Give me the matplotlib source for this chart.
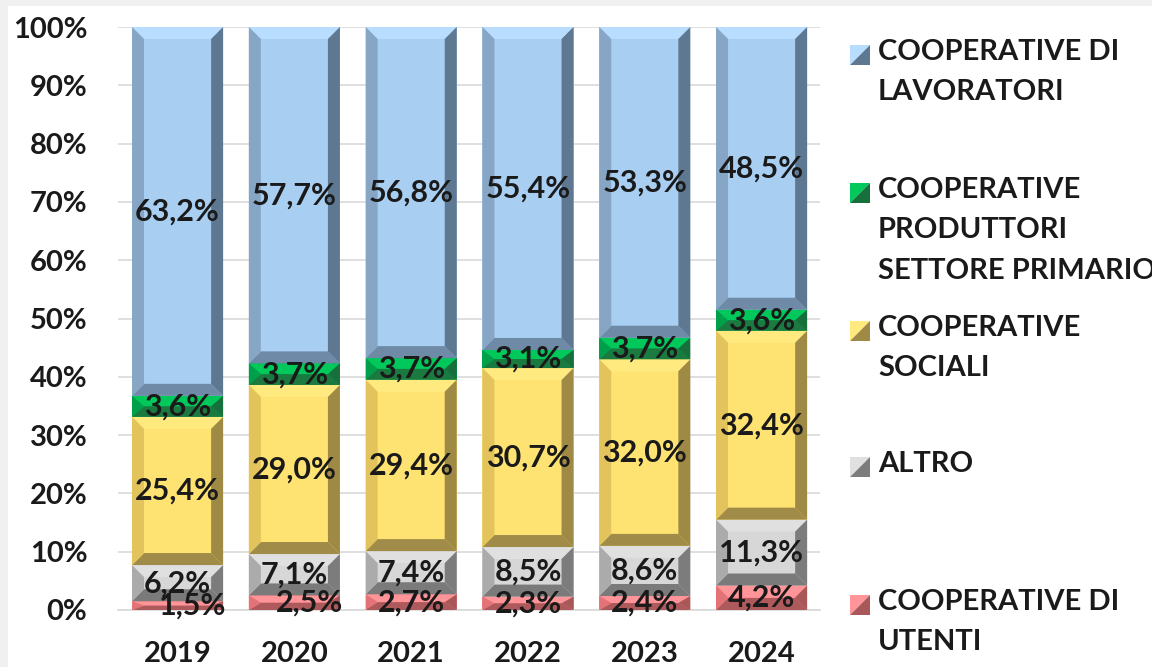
import numpy as np
import matplotlib.pyplot as plt
from matplotlib.patches import Polygon, Rectangle

plt.rcParams['font.family'] = ['Lato', 'DejaVu Sans']

# data (shares in %, bottom to top)
years = ['2019', '2020', '2021', '2022', '2023', '2024']
utenti = [1.5, 2.5, 2.7, 2.3, 2.4, 4.2]
altro = [6.2, 7.1, 7.4, 8.5, 8.6, 11.3]
sociali = [25.4, 29.0, 29.4, 30.7, 32.0, 32.4]
produttori = [3.6, 3.7, 3.7, 3.1, 3.7, 3.6]
lavoratori = [63.2, 57.7, 56.8, 55.4, 53.3, 48.5]

series = [utenti, altro, sociali, produttori, lavoratori]
names = ['COOPERATIVE DI\nUTENTI', 'ALTRO', 'COOPERATIVE\nSOCIALI',
         'COOPERATIVE\nPRODUTTORI\nSETTORE PRIMARIO', 'COOPERATIVE DI\nLAVORATORI']

# face, top, left, right, bottom
colors = [
    ('#FF8185', '#FF9599', '#E27377', '#A9585A', '#AE5A5C'),
    ('#D7D7D7', '#E0E0E0', '#ABABAB', '#7C7C7C', '#7A7A7A'),
    ('#FFE372', '#FFEA80', '#E2C35C', '#9F8A45', '#A08B48'),
    ('#00B050', '#00C85A', '#00A04A', '#17703B', '#1A7A40'),
    ('#A8CEF2', '#B8DDFF', '#87A6C5', '#5F7892', '#6F8AA6'),
]

W, H = 1152, 667
fig = plt.figure(figsize=(W / 100, H / 100), dpi=100)

# background with faint frame
bg = fig.add_axes([0, 0, 1, 1], zorder=-5)
bg.set_xlim(0, W)
bg.set_ylim(H, 0)
bg.axis('off')
bg.add_patch(Rectangle((0, 0), W, H, facecolor='#F0F0F0', edgecolor='none'))
bg.add_patch(Rectangle((8, 6), W - 8, H - 6, facecolor='white', edgecolor='none'))

ax = fig.add_axes([118 / W, 1 - 610 / H, (820 - 118) / W, (610 - 27) / H])
ax.patch.set_alpha(0)

x = np.arange(len(years))
data = np.array(series, dtype=float)
totals = data.sum(axis=0)
shares = data / totals * 100

bevel_px = 12
dx = bevel_px / 116.8
dy_max = bevel_px / 5.83

bottom = np.zeros(len(years))
for k, vals in enumerate(shares):
    face, top, left, right, bot = colors[k]
    bars = ax.bar(x, vals, bottom=bottom, width=0.78, color=face, zorder=2)
    for i, b in enumerate(bars):
        x0, y0 = b.get_x(), b.get_y()
        x1, y1 = x0 + b.get_width(), y0 + b.get_height()
        dy = min(dy_max, (y1 - y0) / 2)
        polys = [
            ([(x0, y1), (x1, y1), (x1 - dx, y1 - dy), (x0 + dx, y1 - dy)], top),
            ([(x0, y0), (x1, y0), (x1 - dx, y0 + dy), (x0 + dx, y0 + dy)], bot),
            ([(x0, y0), (x0 + dx, y0 + dy), (x0 + dx, y1 - dy), (x0, y1)], left),
            ([(x1, y0), (x1 - dx, y0 + dy), (x1 - dx, y1 - dy), (x1, y1)], right),
        ]
        for pts, c in polys:
            ax.add_patch(Polygon(pts, closed=True, facecolor=c, edgecolor='none', zorder=3))
        # label, small nudge for the crowded ones at the bottom
        lx = b.get_x() + b.get_width() / 2
        if k == 0 and i < 2:
            lx += 0.13
        ax.text(lx, y0 + (y1 - y0) / 2, f'{series[k][i]:.1f}%'.replace('.', ','),
                ha='center', va='center', fontsize=22, fontweight='bold',
                color='#1A1A1A', zorder=5)
    bottom += vals

ax.set_xlim(-0.51, 5.5)
ax.set_ylim(0, 100)
ax.set_yticks(range(0, 101, 10))
ax.set_yticklabels([f'{v}%' for v in range(0, 101, 10)])
ax.set_xticks(x)
ax.set_xticklabels(years)
ax.grid(axis='y', color='#D9D9D9', linewidth=1.2, zorder=0)
ax.set_axisbelow(True)
for s in ['top', 'right', 'left']:
    ax.spines[s].set_visible(False)
ax.spines['bottom'].set_color('#D9D9D9')
ax.spines['bottom'].set_linewidth(1.2)
ax.tick_params(length=0)
ax.tick_params(axis='y', pad=22, labelsize=21)
ax.tick_params(axis='x', pad=22, labelsize=21)
for t in ax.get_xticklabels() + ax.get_yticklabels():
    t.set_fontweight('bold')
    t.set_color('#1A1A1A')

# legend, top entry first
leg_y = [55, 193, 331, 467, 605]
for j, k in enumerate(range(len(series) - 1, -1, -1)):
    face, top, left, right, bot = colors[k]
    yc = leg_y[j]
    s = 20
    x0, y0 = 850, yc - s / 2
    bg.add_patch(Polygon([(x0, y0), (x0 + s, y0), (x0, y0 + s)], facecolor=top, edgecolor='none'))
    bg.add_patch(Polygon([(x0 + s, y0), (x0 + s, y0 + s), (x0, y0 + s)], facecolor=right, edgecolor='none'))
    bg.text(878, yc - 16, names[k], ha='left', va='top', fontsize=21,
            fontweight='bold', color='#1A1A1A', linespacing=1.68)

fig.savefig('out.png', dpi=100)
